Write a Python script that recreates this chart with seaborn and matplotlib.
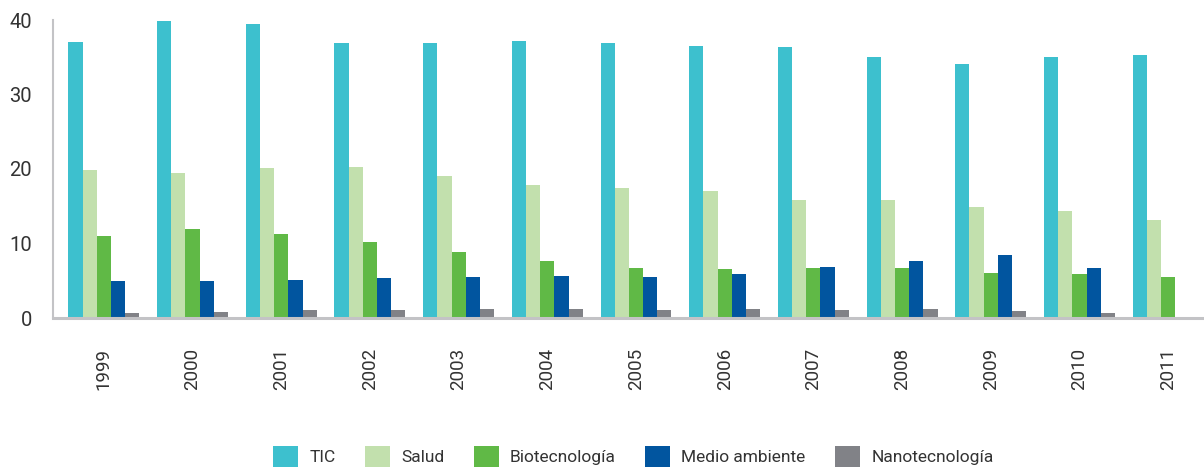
import numpy as np
import pandas as pd
import matplotlib
matplotlib.use("Agg")
import matplotlib.pyplot as plt
import seaborn as sns

# === DATA
years = ["1999", "2000", "2001", "2002", "2003", "2004", "2005",
         "2006", "2007", "2008", "2009", "2010", "2011"]
series = ["TIC", "Salud", "Biotecnología", "Medio ambiente", "Nanotecnología"]
tic = [37.0, 39.9, 39.5, 36.9, 36.9, 37.2, 36.9, 36.5, 36.4, 35.0, 34.1, 35.0, 35.3]
salud = [19.9, 19.5, 20.1, 20.3, 19.1, 17.9, 17.4, 17.0, 15.8, 15.8, 14.9, 14.3, 13.2]
biotec = [11.0, 11.9, 11.3, 10.2, 8.8, 7.7, 6.7, 6.6, 6.7, 6.7, 6.1, 5.9, 5.5]
medio = [4.9, 5.0, 5.1, 5.4, 5.5, 5.7, 5.5, 5.9, 6.9, 7.7, 8.4, 6.7, np.nan]
nano = [0.7, 0.8, 1.1, 1.1, 1.2, 1.2, 1.1, 1.2, 1.1, 1.2, 0.9, 0.7, np.nan]
colors = ["#3dc0ce", "#c2e0ad", "#60b946", "#01559f", "#818287"]

GRAY = "#c3c3c6"
TXT = "#333333"

df = pd.DataFrame({
    "Año": years * 5,
    "Serie": np.repeat(series, len(years)),
    "Valor": tic + salud + biotec + medio + nano,
}).dropna()

# === PLOT
sns.set_style("white")
plt.rcParams["font.family"] = ["Roboto", "DejaVu Sans"]

fig = plt.figure(figsize=(12.04, 4.70), dpi=100)
# the source chart is cropped on the right, last category runs past the edge
ax = fig.add_axes([53 / 1204, 152 / 470, (1212.5 - 53) / 1204, 298 / 470])

sns.barplot(data=df, x="Año", y="Valor", hue="Serie", order=years,
            hue_order=series, palette=colors, saturation=1, width=0.8,
            errorbar=None, linewidth=0, ax=ax)

x_left = -0.5 - 6.5 / 88.5
ax.set_xlim(x_left, 12.5)
ax.set_ylim(0, 40)
ax.set_yticks([0, 10, 20, 30, 40])
ax.set_xlabel("")
ax.set_ylabel("")

for s in ["top", "right"]:
    ax.spines[s].set_visible(False)
ax.spines["left"].set_color(GRAY)
ax.spines["left"].set_linewidth(1.5)
ax.spines["bottom"].set_color(GRAY)
ax.spines["bottom"].set_linewidth(2.2)

ax.tick_params(axis="y", length=8.6, width=1.5, color=GRAY, pad=6.5,
               labelsize=14.5, labelcolor=TXT)
ax.set_xticks(range(len(years)))
ax.set_xticklabels(years, rotation=90)
ax.tick_params(axis="x", which="major", length=0, pad=21.5,
               labelsize=13.5, labelcolor=TXT)
ax.set_xticks([x_left] + [i + 0.5 for i in range(len(years) - 1)], minor=True)
ax.tick_params(axis="x", which="minor", length=9, width=2, color=GRAY)

handles, labels = ax.get_legend_handles_labels()
ax.get_legend().remove()
leg = fig.legend(handles, labels, loc="center", bbox_to_anchor=(0.526, 0.029),
                 ncol=5, frameon=False, fontsize=12.5, handlelength=1.45,
                 handleheight=1.45, handletextpad=0.63, columnspacing=1.7)
for t in leg.get_texts():
    t.set_color(TXT)

fig.savefig("out.png", dpi=100)
